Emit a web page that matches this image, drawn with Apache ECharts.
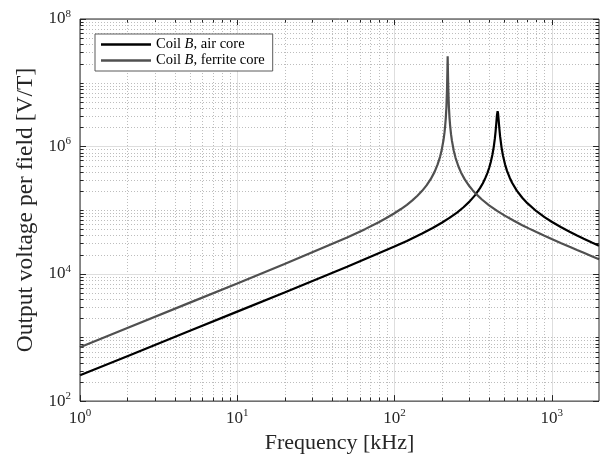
<!DOCTYPE html>
<html><head><meta charset="utf-8">
<script src="https://cdn.jsdelivr.net/npm/echarts@6/dist/echarts.min.js"></script>
<style>html,body{margin:0;padding:0;background:#fff}#c{width:600px;height:459px}</style>
</head><body><div id="c"></div>
<script>
const seriesNames = ['Coil B, air core', 'Coil B, ferrite core'];
const freqAir = [1,2,5,10,20,50,100,120,150,175,200,225,250,275,300,325,350,365,380,390,400,410,420,428,435,440,445,449,453,456,460,465,470,480,490,505,520,540,560,600,650,700,800,900,1000,1150,1300,1450,1600,1800,2000];
const voltAir = [254,508,1270,2541,5090,12857,26700,32780,42790,52250,63100,75870,91300,110600,135700,170100,220600,263600,325700,380600,457400,568500,744000,974400,1318000,1728000,2394000,3126000,3567000,3302000,2587000,1873000,1431000,956800,717300,522700,413300,325100,268800,201800,155900,128100,95900,77560,65580,53650,45630,39830,35420,30910,27470];
const freqFerrite = [1,2,5,10,20,50,65,80,90,100,110,120,130,140,150,160,170,180,188,195,200,205,208,210,212,214,216,217,218,219,220,222,224,226,229,232,238,245,255,265,280,300,315,330,360,400,450,500,575,650,720,800,900,1000,1150,1300,1450,1600,1800,2000];
const voltFerrite = [703,1406,3517,7045,14180,37100,50150,65000,76270,89030,103740,121030,141820,167500,200300,243800,305000,397700,515700,685800,888100,1245000,1628000,2044000,2731000,4081000,7921000,14050000,26050000,14090000,7993000,4160000,2806000,2119000,1553000,1229000,871500,654900,486800,390000,303000,236000,203600,179600,146500,118800,97010,82500,67860,57910,51090,45110,39440,35080,30130,26440,23570,21275,18840,16900];
const xTickExps = [0,1,2,3];
const yTickExps = [2,4,6,8];
const xName = 'Frequency [kHz]';
const yName = 'Output voltage per field [V/T]';
const X_MIN = 1, X_MAX = 2000, Y_MIN = 1e2, Y_MAX = 1e8;

// grid / tick positions
const xLines = [];
for (let d = 0; d <= 3; d++) for (let m = 1; m <= 9; m++) {
  const v = m * Math.pow(10, d);
  if (v >= X_MIN && v < X_MAX) xLines.push([v, Y_MIN, xTickExps.indexOf(d) >= 0 && m === 1 ? 1 : 0]);
}
const yLines = [];
for (let d = 2; d <= 8; d++) for (let m = 1; m <= 9; m++) {
  const v = m * Math.pow(10, d);
  if (v >= Y_MIN && v <= Y_MAX) yLines.push([X_MIN, v, yTickExps.indexOf(d) >= 0 && m === 1 ? 1 : 0]);
}

const FONT = '"Liberation Serif", "DejaVu Serif", serif';
const TXT = '#262626';
const rich = {
  b: {fontSize: 17, fontFamily: FONT, color: TXT},
  s: {fontSize: 11, fontFamily: FONT, color: TXT, padding: [0, 0, 10, 0]}
};
function labelFmt(exps) {
  return function (v) {
    const l = Math.log10(v), e = Math.round(l);
    if (Math.abs(l - e) > 1e-6 || exps.indexOf(e) < 0) return '';
    return '{b|10}{s|' + e + '}';
  };
}
const GRID_MAJOR = '#dedede', GRID_MINOR = '#bdbdbd';
const TICK = '#262626';

function vRender(params, api) {
  const cs = params.coordSys;
  const x = Math.round(api.coord([api.value(0), Y_MIN])[0]) + 0.5;
  const major = api.value(2) === 1;
  const len = major ? 6 : 3.5;
  const top = cs.y, bot = cs.y + cs.height;
  const ch = [];
  ch.push({type: 'line', shape: {x1: x, y1: top, x2: x, y2: bot},
    style: major ? {stroke: GRID_MAJOR, lineWidth: 1} : {stroke: GRID_MINOR, lineWidth: 1, lineDash: [1, 2]}});
  ch.push({type: 'line', shape: {x1: x, y1: bot, x2: x, y2: bot - len}, style: {stroke: TICK, lineWidth: 1}});
  ch.push({type: 'line', shape: {x1: x, y1: top, x2: x, y2: top + len}, style: {stroke: TICK, lineWidth: 1}});
  return {type: 'group', children: ch};
}
function hRender(params, api) {
  const cs = params.coordSys;
  const y = Math.round(api.coord([X_MIN, api.value(1)])[1]) + 0.5;
  const major = api.value(2) === 1;
  const len = major ? 6 : 3.5;
  const l = cs.x, r = cs.x + cs.width;
  const ch = [];
  ch.push({type: 'line', shape: {x1: l, y1: y, x2: r, y2: y},
    style: major ? {stroke: GRID_MAJOR, lineWidth: 1} : {stroke: GRID_MINOR, lineWidth: 1, lineDash: [1, 2]}});
  ch.push({type: 'line', shape: {x1: l, y1: y, x2: l + len, y2: y}, style: {stroke: TICK, lineWidth: 1}});
  ch.push({type: 'line', shape: {x1: r, y1: y, x2: r - len, y2: y}, style: {stroke: TICK, lineWidth: 1}});
  return {type: 'group', children: ch};
}

const chart = echarts.init(document.getElementById('c'), null, {renderer: 'canvas'});
chart.setOption({
  animation: false,
  backgroundColor: '#fff',
  grid: {left: 80, right: 1, top: 19, bottom: 56, show: true, borderColor: TICK, borderWidth: 1, backgroundColor: 'transparent', z: 5},
  legend: {
    left: 95, top: 34, orient: 'vertical',
    data: seriesNames.map(n => ({name: n, icon: 'rect'})),
    itemWidth: 50, itemHeight: 2.5, itemGap: 1,
    padding: [3, 8, 3, 6],
    backgroundColor: '#fff', borderColor: '#5a5a5a', borderWidth: 1,
    formatter: n => n.replace(' B,', ' {i|B},'),
    textStyle: {fontFamily: FONT, fontSize: 14.5, color: '#000',
      rich: {i: {fontFamily: FONT, fontSize: 14.5, fontStyle: 'italic', color: '#000'}}},
    z: 10
  },
  xAxis: {
    type: 'log', logBase: 10, min: X_MIN, max: X_MAX,
    name: xName, nameLocation: 'middle', nameGap: 30,
    nameTextStyle: {fontFamily: FONT, fontSize: 22, color: TXT},
    axisLine: {show: false}, axisTick: {show: false}, splitLine: {show: false},
    axisLabel: {formatter: labelFmt(xTickExps), rich: rich, margin: 7, showMaxLabel: false}
  },
  yAxis: {
    type: 'log', logBase: 10, min: Y_MIN, max: Y_MAX,
    name: yName, nameLocation: 'middle', nameGap: 42,
    nameTextStyle: {fontFamily: FONT, fontSize: 23.5, color: TXT},
    axisLine: {show: false}, axisTick: {show: false}, splitLine: {show: false},
    axisLabel: {formatter: labelFmt(yTickExps), rich: rich, margin: 9}
  },
  series: [
    {type: 'custom', name: 'vgrid', renderItem: vRender, data: xLines, encode: {x: 0, y: 1}, silent: true, z: 1, clip: false},
    {type: 'custom', name: 'hgrid', renderItem: hRender, data: yLines, encode: {x: 0, y: 1}, silent: true, z: 1, clip: false},
    {type: 'line', name: seriesNames[0], data: freqAir.map((f, i) => [f, voltAir[i]]),
      showSymbol: false, symbol: 'none', color: '#000', lineStyle: {color: '#000', width: 2.2}, z: 3, clip: true},
    {type: 'line', name: seriesNames[1], data: freqFerrite.map((f, i) => [f, voltFerrite[i]]),
      showSymbol: false, symbol: 'none', color: '#505050', lineStyle: {color: '#505050', width: 2.2}, z: 3, clip: true}
  ]
});
</script></body></html>
